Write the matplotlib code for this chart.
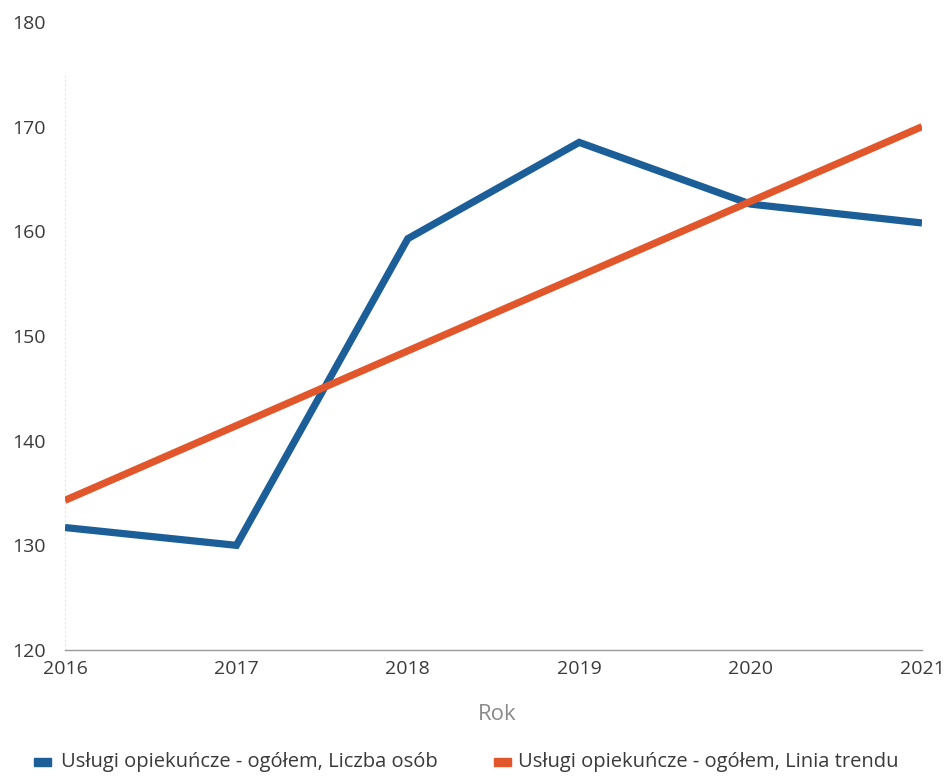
import matplotlib
matplotlib.use("Agg")
import matplotlib.pyplot as plt
from matplotlib.patches import Rectangle

years = [2016, 2017, 2018, 2019, 2020, 2021]
liczba_osob = [131.7, 130.0, 159.3, 168.5, 162.6, 160.8]
trend_years = [2016, 2021]
trend_values = [134.3, 170.0]
yticks = [120, 130, 140, 150, 160, 170, 180]
series_names = ["Usługi opiekuńcze - ogółem, Liczba osób",
                "Usługi opiekuńcze - ogółem, Linia trendu"]
x_label = "Rok"

BLUE = "#1b5e98"
ORANGE = "#e2562b"
TXT = "#3a3a3a"

plt.rcParams['font.family'] = ['Open Sans', 'DejaVu Sans']

W, H = 950, 776
fig = plt.figure(figsize=(W / 100, H / 100), dpi=100)
ax = fig.add_axes([65 / W, 1 - 650 / H, (922 - 65) / W, (650 - 22) / H])

ax.plot(years, liczba_osob, color=BLUE, lw=5.2, solid_joinstyle='miter', solid_capstyle='butt', zorder=3)
ax.plot(trend_years, trend_values, color=ORANGE, lw=5.2, solid_capstyle='butt', zorder=4)

ax.set_xlim(years[0], years[-1])
ax.set_ylim(yticks[0], yticks[-1])
ax.set_yticks(yticks)
ax.set_xticks(years)
ax.set_xticklabels([str(y) for y in years])

for s in ['top', 'right']:
    ax.spines[s].set_visible(False)
ax.spines['left'].set_visible(True)
ax.spines['left'].set_color('#e4e4e4')
ax.spines['left'].set_linestyle((0, (1, 3)))
ax.spines['left'].set_linewidth(0.8)
ax.spines['left'].set_bounds(120, 175)
ax.spines['bottom'].set_color('#9a9a9a')
ax.spines['bottom'].set_linewidth(1.0)
ax.tick_params(axis='both', length=0, labelsize=14, colors=TXT)
ax.tick_params(axis='y', pad=14)
ax.tick_params(axis='x', pad=7)

fig.text(497 / W, 1 - 714 / H, x_label, ha='center', va='center', fontsize=16, color='#8a8a8a')

# legend
ly = 1 - 762 / H
for (sx, tx), col, name in zip([(34, 61), (494, 518)], [BLUE, ORANGE], series_names):
    fig.patches.append(Rectangle((sx / W, ly - 4 / H), 17 / W, 8 / H, transform=fig.transFigure,
                                 color=col, figure=fig))
    fig.text(tx / W, ly, name, ha='left', va='center', fontsize=14.5, color=TXT)

fig.savefig("out.png", dpi=100, facecolor='white')
